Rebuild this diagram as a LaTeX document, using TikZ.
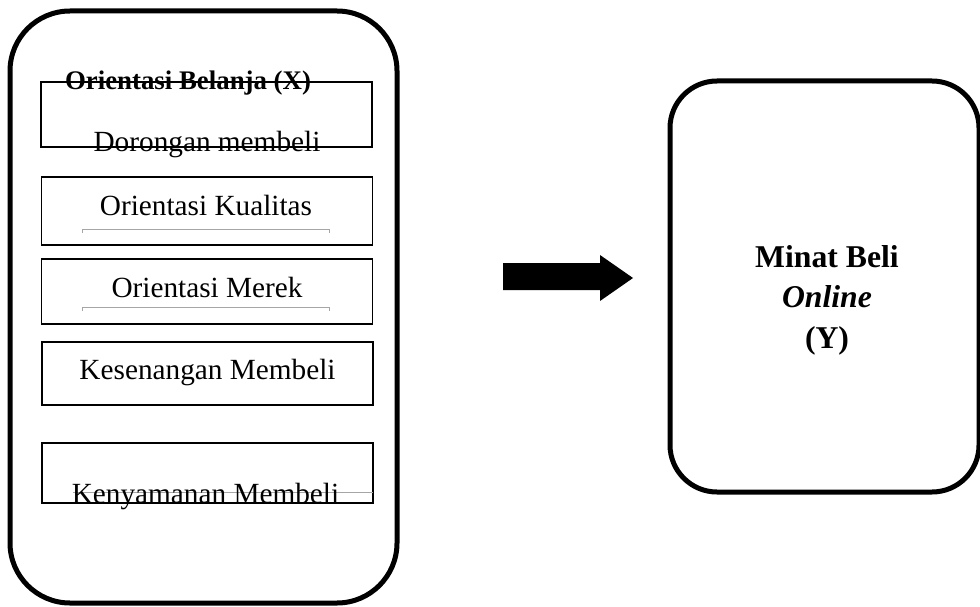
\documentclass[tikz,border=0pt]{standalone}
\usepackage{fontspec}
\setmainfont{Liberation Serif}
\usepackage{tikz}
\usetikzlibrary{arrows.meta, positioning}
\newcommand{\pix}{0.41pt}

\begin{document}
\begin{tikzpicture}[x=0.41pt, y=-0.41pt,
  group/.style={rectangle, draw, line width=5*\pix, inner sep=0pt},
  ind/.style={rectangle, draw, line width=0.5pt, inner sep=0pt, minimum width=331*\pix},
  txt/.style={inner sep=0pt, anchor=base, font=\fontsize{12}{14.4}\selectfont},
  tick/.style={draw=gray!70, line width=0.4pt}
]
\useasboundingbox (0,0) rectangle (980,607);
\clip (0,0) rectangle (980,607);

% variabel X
\node[group, rounded corners=60*\pix, minimum width=387*\pix, minimum height=592*\pix] (X) at (203.5, 307) {};

\node[ind, minimum height=65*\pix] (B1) at (206.5, 114.5) {};
\node[ind, minimum height=68*\pix] (B2) at (207, 211) {};
\node[ind, minimum height=65*\pix] (B3) at (207, 291.5) {};
\node[ind, minimum height=63*\pix] (B4) at (207.5, 373.5) {};
\node[ind, minimum height=60*\pix] (B5) at (207.5, 473) {};

\node[txt, font=\fontsize{11}{13}\selectfont\bfseries] (tX) at (188, 90) {Orientasi Belanja (X)};
\node[txt] (t1) at (207, 152) {Dorongan membeli};
\node[txt] (t2) at (206, 215) {Orientasi Kualitas};
\node[txt] (t3) at (207, 297) {Orientasi Merek};
\node[txt] (t4) at (207.5, 379) {Kesenangan Membeli};
\draw[tick] (73, 492) -- (373, 492);
\node[txt] (t5) at (205.5, 503) {Kenyamanan Membeli};

\draw[tick] (82, 233) -- (82, 229) -- (329, 229) -- (329, 233);
\draw[tick] (82, 311) -- (82, 307) -- (329, 307) -- (329, 311);

% variabel Y
\node[group, rounded corners=47*\pix, minimum width=309*\pix, minimum height=411*\pix] (Y) at (824.5, 286.5) {};
\node[align=center, inner sep=0pt, font=\fontsize{13}{16.6}\selectfont\bfseries] (tY) at (827, 300) {Minat Beli\\\textit{Online}\\(Y)};

% panah
\fill (503, 263) -- (600, 263) -- (600, 255) -- (633, 278) -- (600, 301) -- (600, 290) -- (503, 290) -- cycle;

\end{tikzpicture}
\end{document}
